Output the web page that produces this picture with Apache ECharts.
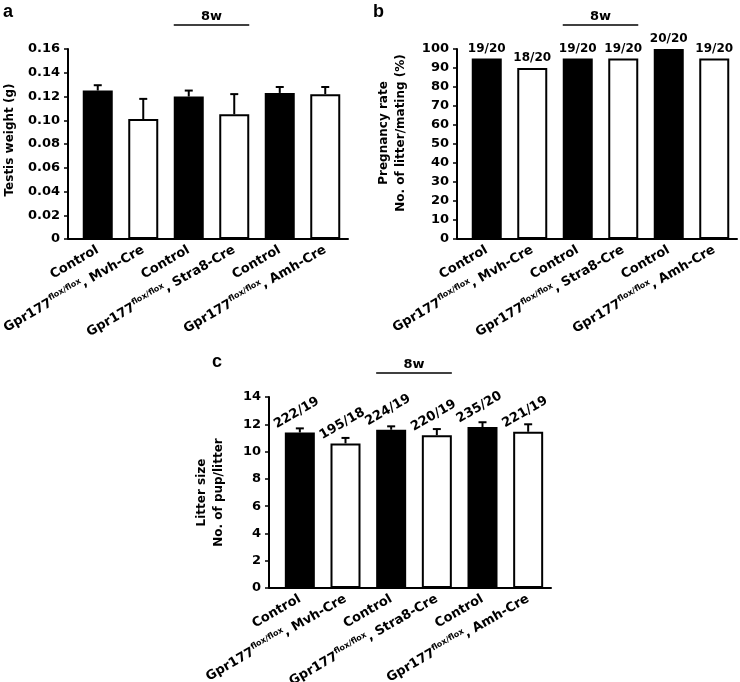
<!DOCTYPE html>
<html>
<head>
<meta charset="utf-8">
<script src="https://cdn.jsdelivr.net/npm/echarts@6/dist/echarts.min.js"></script>
<style>
  html, body { margin: 0; padding: 0; background: #fff; }
  #chart { width: 740px; height: 682px; }
</style>
</head>
<body>
<div id="chart"></div>
<script>
// ---- data ----
const categories = ['Control', 'Gpr177flox/flox, Mvh-Cre', 'Control', 'Gpr177flox/flox, Stra8-Cre', 'Control', 'Gpr177flox/flox, Amh-Cre'];
const testisWeight = [0.125, 0.101, 0.120, 0.105, 0.123, 0.122];
const testisErr = [0.0045, 0.017, 0.005, 0.017, 0.005, 0.006];
const testisTicks = { min: 0, max: 0.16, interval: 0.02 };
const pregnancyRate = [95, 90, 95, 95, 100, 95];
const pregnancyLabels = ['19/20', '18/20', '19/20', '19/20', '20/20', '19/20'];
const pregnancyTicks = { min: 0, max: 100, interval: 10 };
const litterSize = [11.4, 10.6, 11.6, 11.2, 11.8, 11.45];
const litterErr = [0.3, 0.4, 0.25, 0.45, 0.35, 0.55];
const litterLabels = ['222/19', '195/18', '224/19', '220/19', '235/20', '221/19'];
const litterTicks = { min: 0, max: 14, interval: 2 };
const groupLabel = '8w';
const panelLetters = ['a', 'b', 'c'];
const yTitles = ['Testis weight (g)', 'Pregnancy rate\nNo. of litter/mating (%)', 'Litter size\nNo. of pup/litter'];

// ---- layout ----
const FONT = 'DejaVu Sans';
const grids = [
  { left: 75, top: 49, width: 273, height: 190, yOffset: 7, nameGap: 50, namePad: [0, 0, 0, 8] },
  { left: 464, top: 49, width: 273, height: 190, yOffset: 7, nameGap: 48, namePad: [0, 0, 0, 22] },
  { left: 277, top: 397, width: 274, height: 191, yOffset: 8, nameGap: 42, namePad: [0, 0, 0, 0] }
];
const BAR_W = 30;

const chart = echarts.init(document.getElementById('chart'), null, { renderer: 'canvas' });

function catFormatter(v) {
  if (v.indexOf('flox/flox') < 0) return '{m|' + v + '}';
  const parts = v.split('flox/flox');
  return '{m|' + parts[0] + '}{s|flox/flox}{m|' + parts[1] + '}';
}

function barData(vals) {
  return vals.map((v, i) => ({
    value: v,
    itemStyle: i % 2 === 0
      ? { color: '#000', borderColor: '#000', borderWidth: 2 }
      : { color: '#fff', borderColor: '#000', borderWidth: 2 }
  }));
}

function errRender(params, api) {
  const x = api.value(0), v = api.value(1), e = api.value(2);
  const p0 = api.coord([x, v]);
  const p1 = api.coord([x, v + e]);
  const hw = 4;
  return {
    type: 'group',
    children: [
      { type: 'line', shape: { x1: p0[0], y1: p0[1], x2: p1[0], y2: p1[1] }, style: { stroke: '#000', lineWidth: 2 } },
      { type: 'line', shape: { x1: p1[0] - hw, y1: p1[1], x2: p1[0] + hw, y2: p1[1] }, style: { stroke: '#000', lineWidth: 2 } }
    ]
  };
}

const tickSets = [testisTicks, pregnancyTicks, litterTicks];

const option = {
  animation: false,
  backgroundColor: '#fff',
  textStyle: { fontFamily: FONT },
  grid: grids.map(g => ({ left: g.left, top: g.top, width: g.width, height: g.height, containLabel: false, outerBoundsMode: 'none' })),
  xAxis: grids.map((g, i) => ({
    type: 'category',
    gridIndex: i,
    data: categories,
    axisLine: { lineStyle: { color: '#000', width: 2 } },
    axisTick: { show: false },
    axisLabel: {
      interval: 0,
      rotate: 30,
      margin: 10,
      formatter: catFormatter,
      rich: {
        m: { fontFamily: FONT, fontWeight: 'bold', fontSize: 13, color: '#000', lineHeight: 16 },
        s: { fontFamily: FONT, fontWeight: 'bold', fontSize: 8, color: '#000', lineHeight: 16, verticalAlign: 'top' }
      }
    }
  })),
  yAxis: grids.map((g, i) => ({
    type: 'value',
    gridIndex: i,
    min: tickSets[i].min,
    max: tickSets[i].max,
    interval: tickSets[i].interval,
    offset: g.yOffset,
    splitLine: { show: false },
    axisLine: { show: true, lineStyle: { color: '#000', width: 2 } },
    axisTick: { show: true, inside: false, length: 4, lineStyle: { color: '#000', width: 1.5 } },
    axisLabel: {
      color: '#000', fontFamily: FONT, fontWeight: 'bold', fontSize: 13, margin: 8,
      formatter: i === 0 ? (v => (v === 0 ? '0' : v.toFixed(2))) : (v => String(v))
    },
    name: yTitles[i],
    nameLocation: 'middle',
    nameGap: g.nameGap,
    nameTextStyle: { color: '#000', fontFamily: FONT, fontWeight: 'bold', fontSize: 12, lineHeight: 17, padding: g.namePad }
  })),
  series: [
    { type: 'bar', xAxisIndex: 0, yAxisIndex: 0, barWidth: BAR_W, data: barData(testisWeight), z: 2 },
    { type: 'custom', xAxisIndex: 0, yAxisIndex: 0, renderItem: errRender, z: 3,
      encode: { x: 0, y: 1 },
      data: testisWeight.map((v, i) => [i, v, testisErr[i]]) },
    { type: 'bar', xAxisIndex: 1, yAxisIndex: 1, barWidth: BAR_W, data: barData(pregnancyRate), z: 2,
      label: { show: true, position: 'top', distance: 4, color: '#000', fontFamily: FONT, fontWeight: 'bold', fontSize: 12,
        formatter: p => pregnancyLabels[p.dataIndex] } },
    { type: 'bar', xAxisIndex: 2, yAxisIndex: 2, barWidth: BAR_W, data: barData(litterSize), z: 2,
      label: { show: true, position: 'top', distance: 14, rotate: 30, color: '#000', fontFamily: FONT, fontWeight: 'bold', fontSize: 13,
        formatter: p => litterLabels[p.dataIndex] } },
    { type: 'custom', xAxisIndex: 2, yAxisIndex: 2, renderItem: errRender, z: 3,
      encode: { x: 0, y: 1 },
      data: litterSize.map((v, i) => [i, v, litterErr[i]]) }
  ]
};
chart.setOption(option);

// decorations: axis stubs, "8w" brackets, panel letters
const gfx = [];
const letterPos = [[3, 3], [373, 3], [212, 353]];
grids.forEach((g, i) => {
  const axisY = g.top + g.height;
  gfx.push({ type: 'line', shape: { x1: g.left - g.yOffset, y1: axisY, x2: g.left, y2: axisY }, style: { stroke: '#000', lineWidth: 2 } });
  const pL = chart.convertToPixel({ xAxisIndex: i }, 2);
  const pR = chart.convertToPixel({ xAxisIndex: i }, 3);
  const x1 = pL - BAR_W / 2, x2 = pR + BAR_W / 2;
  const lineY = g.top - 24;
  gfx.push({ type: 'line', shape: { x1: x1, y1: lineY, x2: x2, y2: lineY }, style: { stroke: '#000', lineWidth: 1.5 } });
  gfx.push({ type: 'text', x: (x1 + x2) / 2, y: lineY - 2, style: { text: groupLabel, fill: '#000', font: 'bold 13px "DejaVu Sans"', textAlign: 'center', textVerticalAlign: 'bottom' } });
  gfx.push({ type: 'text', x: letterPos[i][0], y: letterPos[i][1], style: { text: panelLetters[i], fill: '#000', font: 'bold 18px "Liberation Sans"', textAlign: 'left', textVerticalAlign: 'top' } });
});
chart.setOption({ graphic: gfx });
</script>
</body>
</html>
